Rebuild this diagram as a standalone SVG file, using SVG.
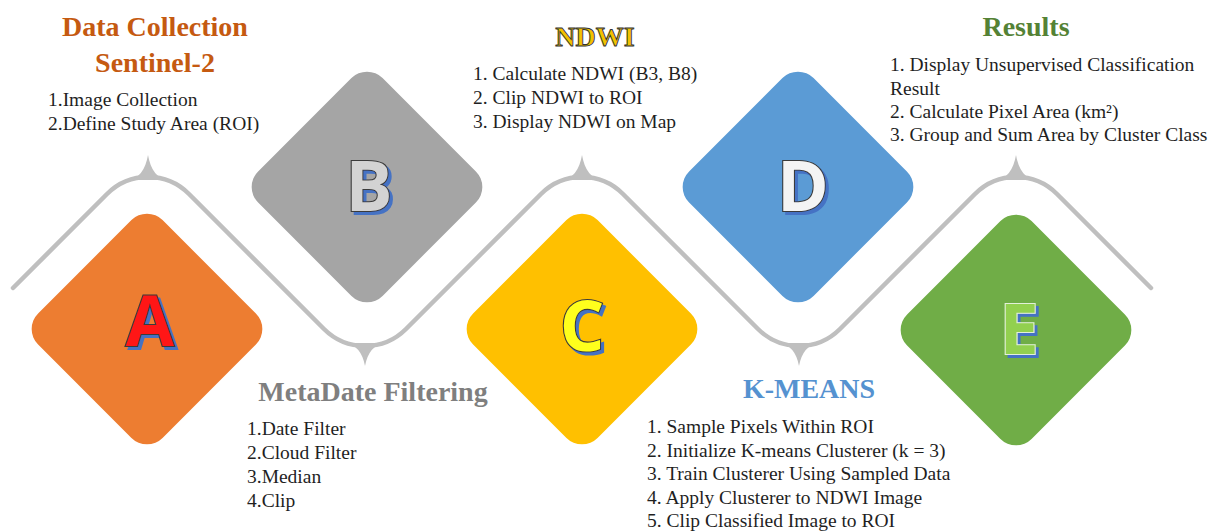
<svg xmlns="http://www.w3.org/2000/svg" width="1215" height="532" viewBox="0 0 1215 532">
  <style>
    .band { fill: none; stroke: #bfbfbf; stroke-width: 4.5; stroke-linecap: round; stroke-linejoin: round; }
    .spike { fill: #bfbfbf; stroke: none; }
    .title { font-family: "Liberation Serif", "Times New Roman", serif; font-weight: bold; font-size: 28px; text-anchor: middle; }
    .list { font-family: "Liberation Serif", "Times New Roman", serif; font-size: 19.5px; fill: #1f1f1f; }
    .letter { font-family: "Open Sans", "DejaVu Sans", sans-serif; font-weight: bold; font-size: 70px; text-anchor: middle; filter: url(#letterShadow); }
    .face { stroke: #3a3a3a; stroke-width: 2.2; paint-order: stroke; }
  </style>
  <defs>
    <rect id="tile" x="-88" y="-88" width="176" height="176" rx="22" ry="22"/>
    <!-- blue offset shadow behind the big tile letters -->
    <filter id="letterShadow" x="-30%" y="-30%" width="160%" height="160%">
      <feFlood flood-color="#4472c4"/>
      <feComposite in2="SourceAlpha" operator="in"/>
      <feOffset dx="2.5" dy="2.5" result="shadow"/>
      <feMerge>
        <feMergeNode in="shadow"/>
        <feMergeNode in="SourceGraphic"/>
      </feMerge>
    </filter>
  </defs>

  <rect width="1215" height="532" fill="#ffffff"/>

  <!-- zigzag band weaving between the tiles -->
  <g id="connectors">
    <path class="band" d="M13,288 L107,194 A58,58 0 0 1 189,194 L324,329 A58,58 0 0 0 406,329 L541,194 A58,58 0 0 1 623,194 L758,329 A58,58 0 0 0 840,329 L975,194 A58,58 0 0 1 1057,194 L1151,288"/>
    <!-- cusps at the crests -->
    <path class="spike" d="M128,180 Q144,178 148,155 Q152,178 168,180 Z"/>
    <path class="spike" d="M562,180 Q578,178 582,155 Q586,178 602,180 Z"/>
    <path class="spike" d="M996,180 Q1012,178 1016,155 Q1020,178 1036,180 Z"/>
    <!-- cusps at the troughs -->
    <path class="spike" d="M345,343 Q361,345 365,366 Q369,345 385,343 Z"/>
    <path class="spike" d="M779,343 Q795,345 799,366 Q803,345 819,343 Z"/>
  </g>

  <!-- A: data collection -->
  <g id="node-a">
    <use href="#tile" transform="translate(147,329) rotate(45)" fill="#ed7d31"/>
    <text class="letter face" x="150" y="346" fill="#ff1414">A</text>
    <text class="title" x="155" y="36" fill="#c55a11">Data Collection</text>
    <text class="title" x="155" y="72" fill="#c55a11">Sentinel-2</text>
    <text class="list" x="48" y="106">1.Image Collection</text>
    <text class="list" x="48" y="130">2.Define Study Area (ROI)</text>
  </g>

  <!-- B: metadata filtering -->
  <g id="node-b">
    <use href="#tile" transform="translate(367,187) rotate(45)" fill="#a5a5a5"/>
    <text class="letter face" x="369" y="211" fill="#d3d3d3">B</text>
    <text class="title" x="373" y="401" fill="#7f7f7f">MetaDate Filtering</text>
    <text class="list" x="247" y="435">1.Date Filter</text>
    <text class="list" x="247" y="459">2.Cloud Filter</text>
    <text class="list" x="247" y="483">3.Median</text>
    <text class="list" x="247" y="507">4.Clip</text>
  </g>

  <!-- C: NDWI -->
  <g id="node-c">
    <use href="#tile" transform="translate(582,329) rotate(45)" fill="#ffc000"/>
    <text class="letter face" x="582" y="351" fill="#ffff1a">C</text>
    <text class="title" x="595" y="46" fill="#f2c200" stroke="#333333" stroke-width="0.9">NDWI</text>
    <text class="list" x="473" y="80">1. Calculate NDWI (B3, B8)</text>
    <text class="list" x="473" y="104">2. Clip NDWI to ROI</text>
    <text class="list" x="473" y="128">3. Display NDWI on Map</text>
  </g>

  <!-- D: k-means -->
  <g id="node-d">
    <use href="#tile" transform="translate(798,187) rotate(45)" fill="#5b9bd5"/>
    <text class="letter face" x="803" y="211" fill="#f4f4f4">D</text>
    <text class="title" x="809" y="398" fill="#5592d0">K-MEANS</text>
    <text class="list" x="647" y="433">1. Sample Pixels Within ROI</text>
    <text class="list" x="647" y="456.5">2. Initialize K-means Clusterer (k = 3)</text>
    <text class="list" x="647" y="480">3. Train Clusterer Using Sampled Data</text>
    <text class="list" x="647" y="503.5">4. Apply Clusterer to NDWI Image</text>
    <text class="list" x="647" y="527">5. Clip Classified Image to ROI</text>
  </g>

  <!-- E: results -->
  <g id="node-e">
    <use href="#tile" transform="translate(1016,330) rotate(45)" fill="#70ad47"/>
    <text class="letter" x="1019" y="354" fill="#92d050" stroke="#e2f0d9" stroke-width="2.2" paint-order="stroke">E</text>
    <text class="title" x="1026" y="36" fill="#548235">Results</text>
    <text class="list" x="890" y="71">1. Display Unsupervised Classification</text>
    <text class="list" x="890" y="95">Result</text>
    <text class="list" x="890" y="118">2. Calculate Pixel Area (km²)</text>
    <text class="list" x="890" y="141">3. Group and Sum Area by Cluster Class</text>
  </g>
</svg>
